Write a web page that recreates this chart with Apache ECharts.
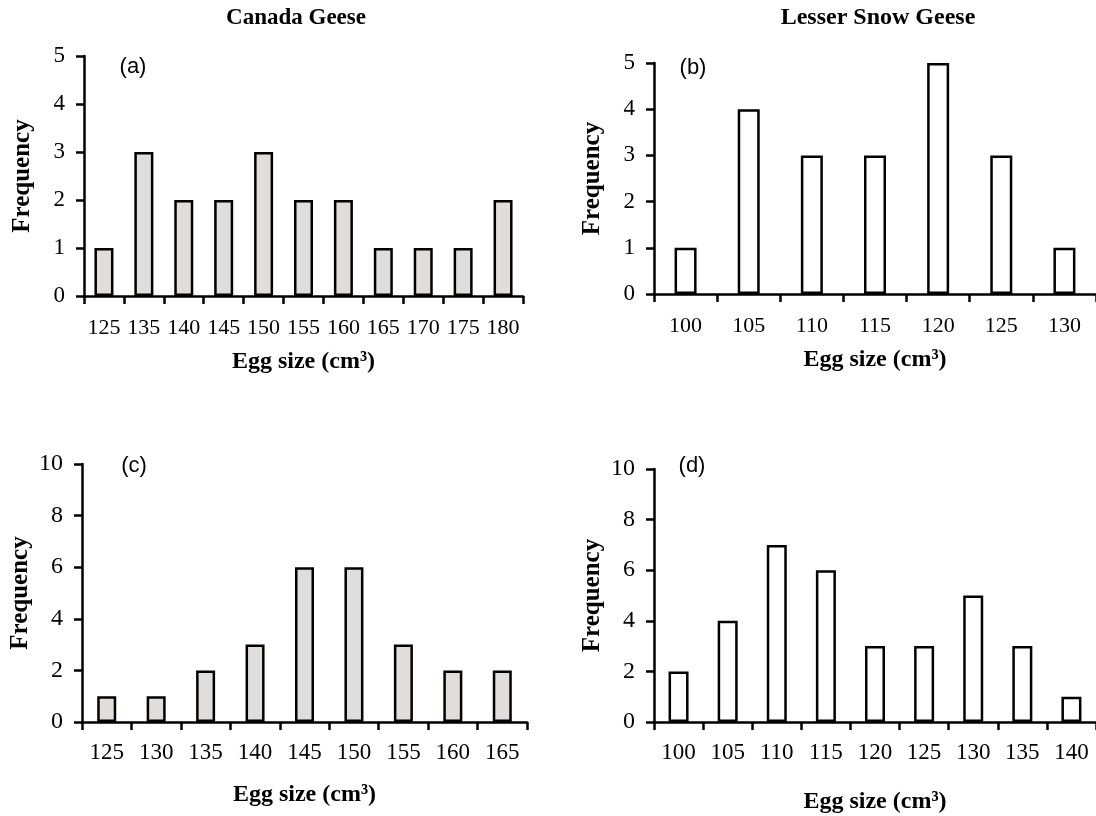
<!DOCTYPE html>
<html>
<head>
<meta charset="utf-8">
<script src="https://cdn.jsdelivr.net/npm/echarts@6/dist/echarts.min.js"></script>
<style>
html,body{margin:0;padding:0;background:#fff;}
#chart{width:1096px;height:816px;}
</style>
</head>
<body>
<div id="chart"></div>
<script>
// ---- data ----
const catsA = ['125','135','140','145','150','155','160','165','170','175','180'];
const valsA = [1,3,2,2,3,2,2,1,1,1,2];
const catsB = ['100','105','110','115','120','125','130'];
const valsB = [1,4,3,3,5,3,1];
const catsC = ['125','130','135','140','145','150','155','160','165'];
const valsC = [1,1,2,3,6,6,3,2,2];
const catsD = ['100','105','110','115','120','125','130','135','140'];
const valsD = [2,4,7,6,3,3,5,3,1];
const titleLeft = 'Canada Geese';
const titleRight = 'Lesser Snow Geese';
const panelLabels = ['(a)','(b)','(c)','(d)'];
const xName = 'Egg size (cm³)';
const yName = 'Frequency';

const SERIF = '"Liberation Serif", "Times New Roman", serif';
const SANS = '"Liberation Sans", Arial, sans-serif';
const GRAY = '#e0dddb';

const chart = echarts.init(document.getElementById('chart'));

const grids = [
  {left: 84, top: 56, width: 439, height: 240},
  {left: 654, top: 63, width: 448, height: 231},
  {left: 82, top: 464, width: 445, height: 258},
  {left: 654, top: 469, width: 450, height: 253}
];
const cats = [catsA, catsB, catsC, catsD];
const vals = [valsA, valsB, valsC, valsD];
const fills = [GRAY, '#ffffff', GRAY, '#ffffff'];
const barW = [19, 22, 19, 20];
const yMax = [5, 5, 10, 10];
const yInt = [1, 1, 2, 2];
const xFont = [22, 22, 23, 23];
const yFont = [23, 23, 24, 24];
const xMargin = [21, 21, 19, 19];
const xNameGap = [54, 54, 61, 68];

const axisLine = {show: true, lineStyle: {color: '#000', width: 2.5}};

const option = {
  backgroundColor: '#fff',
  animation: false,
  grid: grids.map(g => Object.assign({containLabel: false}, g)),
  xAxis: cats.map((c, i) => ({
    type: 'category', gridIndex: i, data: c, boundaryGap: true,
    axisLine: axisLine,
    axisTick: {show: true, alignWithLabel: false, length: 8, lineStyle: {color: '#000', width: 2.5}},
    axisLabel: {color: '#000', fontFamily: SERIF, fontSize: xFont[i], margin: xMargin[i], interval: 0},
    name: xName, nameLocation: 'middle', nameGap: xNameGap[i],
    nameTextStyle: {color: '#000', fontFamily: SERIF, fontWeight: 'bold', fontSize: 24},
    splitLine: {show: false}
  })),
  yAxis: cats.map((c, i) => ({
    type: 'value', gridIndex: i, min: 0, max: yMax[i], interval: yInt[i],
    axisLine: axisLine,
    axisTick: {show: true, inside: false, length: 8, lineStyle: {color: '#000', width: 2.5}},
    axisLabel: {color: '#000', fontFamily: SERIF, fontSize: yFont[i], margin: 19},
    splitLine: {show: false},
    name: yName, nameLocation: 'middle', nameRotate: 90, nameGap: 49,
    nameTextStyle: {color: '#000', fontFamily: SERIF, fontWeight: 'bold', fontSize: 25}
  })),
  series: vals.map((v, i) => ({
    type: 'bar', xAxisIndex: i, yAxisIndex: i, data: v,
    barWidth: barW[i],
    itemStyle: {color: fills[i], borderColor: '#000', borderWidth: 2.5},
    silent: true
  })),
  graphic: [
    {type: 'text', x: 296, y: 18, style: {text: titleLeft, font: 'bold 23px ' + SERIF, fill: '#000', align: 'center', verticalAlign: 'middle', textAlign: 'center', textVerticalAlign: 'middle'}},
    {type: 'text', x: 878, y: 18, style: {text: titleRight, font: 'bold 24px ' + SERIF, fill: '#000', align: 'center', verticalAlign: 'middle', textAlign: 'center', textVerticalAlign: 'middle'}},
    {type: 'text', x: 133, y: 67, style: {text: panelLabels[0], font: '22px ' + SANS, fill: '#000', align: 'center', verticalAlign: 'middle', textAlign: 'center', textVerticalAlign: 'middle'}},
    {type: 'text', x: 693, y: 68, style: {text: panelLabels[1], font: '22px ' + SANS, fill: '#000', align: 'center', verticalAlign: 'middle', textAlign: 'center', textVerticalAlign: 'middle'}},
    {type: 'text', x: 134, y: 466, style: {text: panelLabels[2], font: '22px ' + SANS, fill: '#000', align: 'center', verticalAlign: 'middle', textAlign: 'center', textVerticalAlign: 'middle'}},
    {type: 'text', x: 692, y: 466, style: {text: panelLabels[3], font: '22px ' + SANS, fill: '#000', align: 'center', verticalAlign: 'middle', textAlign: 'center', textVerticalAlign: 'middle'}}
  ]
};
chart.setOption(option);
</script>
</body>
</html>
